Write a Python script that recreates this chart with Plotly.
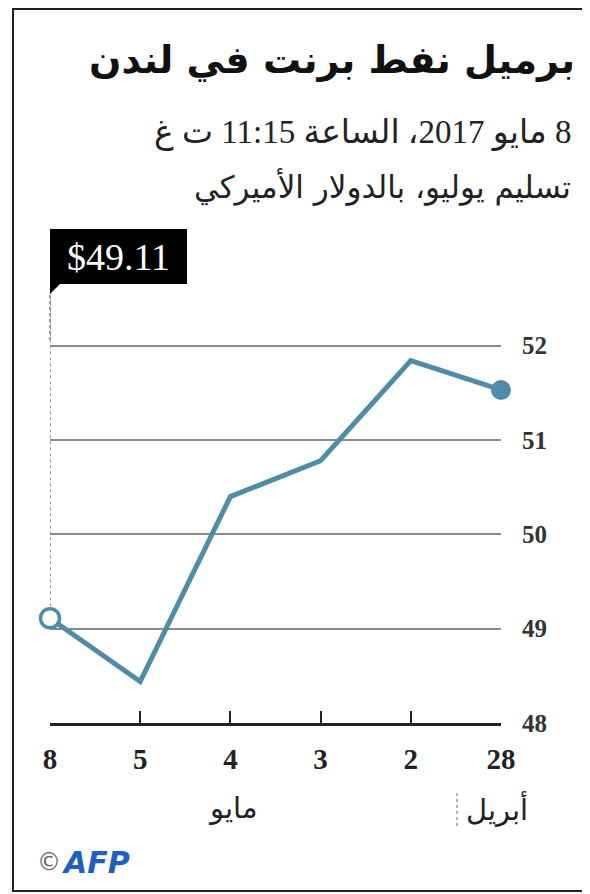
import plotly.graph_objects as go

# ---- data ----
dates = ["8 مايو", "5 مايو", "4 مايو", "3 مايو", "2 مايو", "28 أبريل"]
tick_labels = ["8", "5", "4", "3", "2", "28"]
prices = [49.11, 48.44, 50.40, 50.78, 51.84, 51.53]
y_ticks = [48, 49, 50, 51, 52]
month_labels = ["مايو", "أبريل"]

title = "برميل نفط برنت في لندن"
sub1 = "8 مايو 2017، الساعة 11:15 ت غ"
sub2 = "تسليم يوليو، بالدولار الأميركي"

# page body has an 8px margin; figure sized to fit the window
OFF = 8
W, H = 582, 886
L, R, T, B = 42, 493, 281, 715  # plot area in figure pixels

def px(xs):  # screen pixel -> paper x
    return (xs - OFF - L) / (R - L)

def py(ys):  # screen pixel -> paper y
    return (B - (ys - OFF)) / (B - T)

def rtl(s):
    return "\u202b\u200f" + s + "\u200f\u202c"

LINE = "#4f8bab"
SERIF = "Liberation Serif, DejaVu Serif, DejaVu Sans"
ARAB = "DejaVu Sans, Noto Sans, sans-serif"

xs = list(range(len(dates)))

fig = go.Figure()
fig.add_trace(go.Scatter(
    x=xs, y=prices, mode="lines",
    line=dict(color=LINE, width=5),
    hoverinfo="skip", cliponaxis=False, showlegend=False,
))
fig.add_trace(go.Scatter(
    x=[xs[0]], y=[prices[0]], mode="markers",
    marker=dict(size=19, color="white", line=dict(color=LINE, width=3.5)),
    cliponaxis=False, showlegend=False, hoverinfo="skip",
))
fig.add_trace(go.Scatter(
    x=[xs[-1]], y=[prices[-1]], mode="markers",
    marker=dict(size=20, color=LINE),
    cliponaxis=False, showlegend=False, hoverinfo="skip",
))

shapes = []
# frame (right side runs off the page, as in the original)
shapes.append(dict(type="rect", xref="paper", yref="paper",
                   x0=px(13), x1=px(620), y0=py(891), y1=py(9),
                   line=dict(color="#222", width=2), fillcolor="rgba(0,0,0,0)", layer="below"))
# dotted leader line from latest point up to label
shapes.append(dict(type="line", xref="x", yref="y",
                   x0=xs[0], x1=xs[0], y0=prices[0], y1=52.6,
                   line=dict(color="#999", width=2, dash="dot"), layer="below"))
shapes.append(dict(type="line", xref="paper", yref="paper",
                   x0=px(50), x1=px(50), y0=py(340), y1=py(292),
                   line=dict(color="#999", width=2, dash="dot"), layer="below"))
# label box
shapes.append(dict(type="rect", xref="paper", yref="paper",
                   x0=px(50), x1=px(187), y0=py(284), y1=py(229),
                   line=dict(width=0), fillcolor="black"))
shapes.append(dict(type="path", xref="paper", yref="paper",
                   path=f"M {px(50)} {py(283)} L {px(61)} {py(283)} L {px(50)} {py(294)} Z",
                   line=dict(width=0), fillcolor="black"))
# month separator (dotted)
shapes.append(dict(type="line", xref="paper", yref="paper",
                   x0=px(457), x1=px(457), y0=py(793), y1=py(826),
                   line=dict(color="#999", width=1.5, dash="dot")))

annotations = [
    dict(text=f"<b>{rtl(title)}</b>", x=px(577), y=py(60), xref="paper", yref="paper",
         xanchor="right", yanchor="middle", showarrow=False,
         font=dict(family=ARAB, size=38, color="#111")),
    dict(text=rtl(sub1), x=px(573), y=py(132), xref="paper", yref="paper",
         xanchor="right", yanchor="middle", showarrow=False,
         font=dict(family=SERIF, size=33, color="#222")),
    dict(text=rtl(sub2), x=px(573), y=py(187), xref="paper", yref="paper",
         xanchor="right", yanchor="middle", showarrow=False,
         font=dict(family=ARAB, size=31, color="#222")),
    dict(text=f"${prices[0]:.2f}", x=px(118), y=py(257), xref="paper", yref="paper",
         xanchor="center", yanchor="middle", showarrow=False,
         font=dict(family=SERIF, size=38, color="white")),
    dict(text=rtl(month_labels[0]), x=px(232), y=py(808), xref="paper", yref="paper",
         xanchor="center", yanchor="middle", showarrow=False,
         font=dict(family=ARAB, size=29, color="#222")),
    dict(text=rtl(month_labels[1]), x=px(497), y=py(808), xref="paper", yref="paper",
         xanchor="center", yanchor="middle", showarrow=False,
         font=dict(family=ARAB, size=29, color="#222")),
    dict(text="©", x=px(35), y=py(862),
         xref="paper", yref="paper", xanchor="left", yanchor="middle", showarrow=False,
         font=dict(family="DejaVu Sans", size=24, color="#666")),
    dict(text="<b><i>AFP</i></b>", x=px(60), y=py(862),
         xref="paper", yref="paper", xanchor="left", yanchor="middle", showarrow=False,
         font=dict(family="DejaVu Sans", size=30, color="#1f5fbf")),
]

fig.update_layout(
    width=W, height=H,
    margin=dict(l=L, r=W - R, t=T, b=H - B, pad=0),
    paper_bgcolor="white", plot_bgcolor="white",
    shapes=shapes, annotations=annotations,
    showlegend=False,
    xaxis=dict(
        range=[0, len(dates) - 1], tickvals=xs, ticktext=tick_labels,
        showgrid=False, zeroline=False,
        showline=True, linecolor="#222", linewidth=3,
        ticks="inside", ticklen=12, tickwidth=2, tickcolor="#222",
        tickfont=dict(family=SERIF, size=29, color="#222", weight="bold"),
        ticklabelstandoff=8,
        fixedrange=True,
    ),
    yaxis=dict(
        range=[48, 52.6], tickvals=y_ticks, side="right",
        showgrid=True, gridcolor="#8a8a8a", gridwidth=2,
        zeroline=False, showline=False, ticks="",
        tickfont=dict(family=SERIF, size=25, color="#333", weight="bold"),
        ticklabelstandoff=20,
        fixedrange=True,
    ),
)

fig.write_html("out.html")
